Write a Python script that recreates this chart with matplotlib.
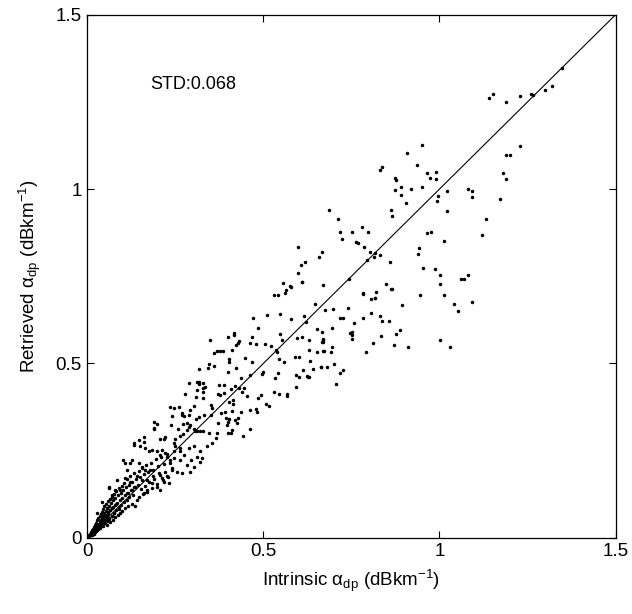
import matplotlib
matplotlib.use("Agg")
import matplotlib.pyplot as plt

plt.rcParams["font.family"] = ["Liberation Sans", "DejaVu Sans"]
plt.rcParams["mathtext.fontset"] = "custom"
plt.rcParams["mathtext.rm"] = "Liberation Sans"
plt.rcParams["mathtext.it"] = "Liberation Sans:italic"

# intrinsic vs retrieved specific differential phase
intrinsic = [
    # dense wedge near origin
    0.003, 0.005, 0.006, 0.008, 0.009, 0.010, 0.011, 0.012, 0.013, 0.014,
    0.015, 0.016, 0.017, 0.018, 0.019, 0.020, 0.021, 0.022, 0.023, 0.024,
    0.025, 0.026, 0.027, 0.028, 0.029, 0.030, 0.031, 0.032, 0.033, 0.034,
    0.035, 0.036, 0.037, 0.038, 0.039, 0.040, 0.041, 0.042, 0.043, 0.044,
    0.045, 0.046, 0.047, 0.048, 0.049, 0.050, 0.052, 0.053, 0.054, 0.055,
    0.056, 0.057, 0.058, 0.059, 0.060, 0.062, 0.063, 0.064, 0.065, 0.066,
    0.068, 0.069, 0.070, 0.071, 0.072, 0.074, 0.075, 0.076, 0.078, 0.079,
    0.080, 0.082, 0.083, 0.085, 0.086, 0.088, 0.089, 0.090, 0.092, 0.093,
    0.095, 0.096, 0.098, 0.099, 0.100, 0.102, 0.104, 0.105, 0.107, 0.108,
    0.110, 0.112, 0.113, 0.115, 0.117, 0.118, 0.120, 0.122, 0.124, 0.126,
    0.128, 0.130, 0.132, 0.134, 0.136, 0.138, 0.140, 0.143, 0.146, 0.148,
    0.150, 0.153, 0.156, 0.158, 0.161, 0.164, 0.167, 0.170, 0.173, 0.176,
    0.180, 0.183, 0.186, 0.190, 0.194, 0.198, 0.202, 0.206, 0.210, 0.214,
    0.218, 0.222, 0.226, 0.230, 0.235, 0.240, 0.245,
    0.061, 0.084, 0.108, 0.134, 0.160, 0.027, 0.042,
    0.015, 0.022, 0.030, 0.036, 0.044, 0.051, 0.058, 0.066, 0.073, 0.081,
    0.019, 0.027, 0.034, 0.041, 0.049, 0.056, 0.063, 0.070, 0.077, 0.091,
    # lower band 0.05 - 0.35
    0.132, 0.146, 0.160, 0.151, 0.165, 0.174, 0.184, 0.198, 0.212, 0.207,
    0.222, 0.226, 0.245, 0.250, 0.264, 0.262, 0.274, 0.288, 0.302, 0.321,
    0.326, 0.319, 0.312, 0.295, 0.283, 0.264, 0.245, 0.236, 0.269, 0.255,
    0.241, 0.226, 0.212, 0.203, 0.188, 0.179, 0.165, 0.155, 0.146, 0.127,
    0.122, 0.113, 0.103, 0.108, 0.122, 0.141, 0.155, 0.170, 0.184, 0.198,
    0.217, 0.231, 0.207, 0.170, 0.160, 0.136, 0.127, 0.113, 0.094, 0.080,
    0.070, 0.061, 0.190, 0.257, 0.304, 0.401, 0.420, 0.395, 0.411, 0.425,
    0.354, 0.340, 0.302, 0.293, 0.312, 0.329, 0.333,
    # middle band 0.2 - 0.5
    0.416, 0.416, 0.432, 0.427, 0.349, 0.400, 0.385, 0.378, 0.368, 0.359,
    0.411, 0.422, 0.402, 0.403, 0.361, 0.345, 0.342, 0.421, 0.400, 0.317,
    0.290, 0.316, 0.317, 0.329, 0.328, 0.330, 0.311, 0.310, 0.279, 0.438,
    0.445, 0.420, 0.431, 0.408, 0.375, 0.388, 0.371, 0.378, 0.388, 0.403,
    0.415, 0.413, 0.352, 0.355, 0.302, 0.440, 0.455, 0.484, 0.494, 0.508,
    0.516, 0.531, 0.545, 0.567, 0.568, 0.592, 0.602, 0.626, 0.463, 0.478,
    0.482, 0.437, 0.427, 0.403, 0.400, 0.412, 0.380, 0.390, 0.371, 0.351,
    0.331, 0.316, 0.310, 0.291, 0.288, 0.276, 0.268, 0.269, 0.260, 0.245,
    0.234, 0.242, 0.191, 0.198, 0.191, 0.238, 0.272, 0.283, 0.293, 0.288,
    0.305, 0.312, 0.319, 0.328, 0.347, 0.369, 0.409, 0.397, 0.461, 0.443,
    0.366, 0.271, 0.264, 0.248, 0.222, 0.217, 0.207, 0.283,
    # 0.45 - 0.7
    0.687, 0.712, 0.719, 0.752, 0.722, 0.781, 0.796, 0.762, 0.768, 0.785,
    0.802, 0.816, 0.813, 0.793, 0.599, 0.666, 0.657, 0.617, 0.606, 0.599,
    0.610, 0.555, 0.578, 0.563, 0.561, 0.542, 0.531, 0.669, 0.742, 0.784,
    0.817, 0.647, 0.546, 0.509, 0.472, 0.579, 0.615, 0.621, 0.484, 0.651,
    0.467, 0.461, 0.478, 0.505, 0.523, 0.547, 0.553, 0.535, 0.540, 0.596,
    0.610, 0.629, 0.668, 0.668, 0.449, 0.467, 0.545, 0.558, 0.590, 0.602,
    0.631, 0.651, 0.671, 0.633, 0.612, 0.641, 0.665, 0.594, 0.623, 0.630,
    0.463, 0.499, 0.497, 0.543, 0.532, 0.577, 0.610,
    # 0.65 - 1.05 below line
    0.783, 0.820, 0.807, 0.818, 1.052, 0.676, 0.697, 0.741, 0.806, 0.830,
    0.782, 0.717, 0.726, 0.838, 0.858, 0.758, 0.695, 0.667, 0.745, 0.753,
    0.753, 0.887, 0.878, 0.834, 1.001, 1.031, 0.670, 0.667, 0.753, 0.810,
    0.871, 0.911, 0.695, 0.693, 0.670, 0.791, 0.665, 0.681, 0.702, 0.717,
    0.726, 0.705,
    # upper right
    0.950, 0.908, 0.837, 0.832, 0.935, 0.965, 0.990, 0.974, 0.990, 0.874,
    0.877, 0.874, 0.892, 0.920, 0.950, 0.892, 0.906, 0.863, 0.864, 1.022,
    0.996, 0.993, 1.022, 1.080, 1.092, 1.092, 1.171, 1.181, 1.189, 1.190,
    1.200, 1.230, 1.132, 1.122, 0.965, 0.977, 1.012, 0.942, 0.940, 0.832,
    0.861, 0.952, 0.987, 1.002, 1.002, 1.062, 1.071, 1.082, 0.847, 0.863,
    0.866, 0.944, 1.012, 0.894, 1.042, 1.092,
    1.141, 1.151, 1.189, 1.230, 1.259, 1.266, 1.299, 1.320, 1.349,
]
retrieved = [
    0.004, 0.008, 0.005, 0.012, 0.007, 0.015, 0.010, 0.018, 0.009, 0.022,
    0.013, 0.026, 0.016, 0.030, 0.012, 0.021, 0.034, 0.017, 0.038, 0.027,
    0.020, 0.044, 0.031, 0.023, 0.050, 0.036, 0.026, 0.056, 0.041, 0.030,
    0.062, 0.047, 0.027, 0.068, 0.052, 0.035, 0.075, 0.058, 0.040, 0.082,
    0.063, 0.034, 0.070, 0.050, 0.090, 0.042, 0.078, 0.060, 0.098, 0.038,
    0.085, 0.066, 0.048, 0.106, 0.074, 0.092, 0.055, 0.112, 0.080, 0.045,
    0.100, 0.064, 0.118, 0.087, 0.052, 0.108, 0.072, 0.126, 0.093, 0.060,
    0.115, 0.080, 0.134, 0.100, 0.066, 0.122, 0.088, 0.142, 0.108, 0.072,
    0.130, 0.095, 0.150, 0.115, 0.078, 0.138, 0.102, 0.158, 0.122, 0.085,
    0.145, 0.108, 0.168, 0.130, 0.092, 0.153, 0.116, 0.176, 0.138, 0.098,
    0.160, 0.122, 0.185, 0.145, 0.090, 0.168, 0.110, 0.152, 0.192, 0.118,
    0.175, 0.140, 0.200, 0.125, 0.183, 0.150, 0.208, 0.132, 0.190, 0.160,
    0.215, 0.142, 0.196, 0.168, 0.225, 0.155, 0.205, 0.180, 0.232, 0.165,
    0.212, 0.190, 0.240, 0.175, 0.222, 0.200, 0.250,
    0.147, 0.166, 0.214, 0.267, 0.289, 0.071, 0.104,
    0.019, 0.028, 0.037, 0.044, 0.054, 0.062, 0.070, 0.079, 0.088, 0.097,
    0.016, 0.024, 0.031, 0.037, 0.045, 0.051, 0.058, 0.064, 0.070, 0.083,
    0.272, 0.281, 0.276, 0.262, 0.257, 0.248, 0.252, 0.249, 0.252, 0.238,
    0.243, 0.233, 0.272, 0.262, 0.257, 0.248, 0.238, 0.257, 0.262, 0.248,
    0.229, 0.217, 0.231, 0.224, 0.209, 0.224, 0.229, 0.214, 0.186, 0.190,
    0.195, 0.176, 0.171, 0.186, 0.176, 0.195, 0.195, 0.204, 0.214, 0.224,
    0.214, 0.195, 0.224, 0.171, 0.161, 0.176, 0.166, 0.166, 0.157, 0.147,
    0.161, 0.157, 0.138, 0.138, 0.128, 0.147, 0.138, 0.128, 0.138, 0.138,
    0.123, 0.143, 0.312, 0.312, 0.312, 0.302, 0.338, 0.345, 0.310, 0.329,
    0.272, 0.262, 0.204, 0.190, 0.448, 0.445, 0.432,
    0.587, 0.582, 0.565, 0.558, 0.568, 0.576, 0.536, 0.536, 0.536, 0.530,
    0.538, 0.553, 0.512, 0.505, 0.494, 0.499, 0.487, 0.488, 0.475, 0.484,
    0.444, 0.448, 0.442, 0.429, 0.418, 0.401, 0.424, 0.404, 0.413, 0.457,
    0.431, 0.436, 0.430, 0.426, 0.438, 0.438, 0.413, 0.410, 0.414, 0.391,
    0.394, 0.384, 0.381, 0.372, 0.379, 0.418, 0.407, 0.401, 0.410, 0.385,
    0.379, 0.419, 0.413, 0.413, 0.407, 0.432, 0.461, 0.461, 0.367, 0.369,
    0.362, 0.362, 0.345, 0.340, 0.333, 0.365, 0.358, 0.361, 0.329, 0.351,
    0.353, 0.346, 0.340, 0.367, 0.353, 0.350, 0.359, 0.353, 0.375, 0.371,
    0.375, 0.349, 0.331, 0.327, 0.315, 0.324, 0.327, 0.329, 0.324, 0.317,
    0.305, 0.307, 0.305, 0.305, 0.300, 0.300, 0.300, 0.323, 0.313, 0.291,
    0.286, 0.298, 0.293, 0.284, 0.288, 0.283, 0.283, 0.308,
    0.939, 0.915, 0.878, 0.878, 0.857, 0.890, 0.878, 0.848, 0.845, 0.835,
    0.821, 0.816, 0.805, 0.798, 0.833, 0.820, 0.806, 0.792, 0.781, 0.759,
    0.734, 0.730, 0.720, 0.711, 0.702, 0.697, 0.695, 0.726, 0.743, 0.701,
    0.687, 0.670, 0.643, 0.639, 0.630, 0.628, 0.636, 0.619, 0.601, 0.599,
    0.576, 0.560, 0.555, 0.555, 0.551, 0.584, 0.566, 0.539, 0.534, 0.574,
    0.577, 0.567, 0.570, 0.561, 0.515, 0.504, 0.514, 0.503, 0.519, 0.519,
    0.538, 0.533, 0.537, 0.507, 0.480, 0.484, 0.491, 0.467, 0.465, 0.460,
    0.467, 0.477, 0.470, 0.474, 0.458, 0.721, 0.733,
    0.700, 0.705, 0.685, 0.689, 0.650, 0.652, 0.655, 0.659, 0.645, 0.636,
    0.631, 0.629, 0.629, 0.622, 0.622, 0.615, 0.603, 0.589, 0.587, 0.589,
    0.583, 0.597, 0.584, 0.580, 0.568, 0.548, 0.568, 0.561, 0.569, 0.558,
    0.553, 0.546, 0.548, 0.533, 0.536, 0.534, 0.490, 0.491, 0.499, 0.472,
    0.481, 0.440,
    1.127, 1.103, 1.063, 1.055, 1.070, 1.046, 1.048, 1.031, 1.030, 1.031,
    1.026, 0.998, 1.005, 1.001, 1.007, 0.983, 0.961, 0.941, 0.923, 0.996,
    0.979, 0.966, 0.938, 1.000, 0.994, 0.977, 0.972, 1.045, 1.030, 1.098,
    1.099, 1.124, 0.915, 0.868, 0.874, 0.877, 0.852, 0.830, 0.814, 0.810,
    0.792, 0.774, 0.771, 0.755, 0.728, 0.743, 0.741, 0.753, 0.728, 0.715,
    0.714, 0.695, 0.695, 0.668, 0.670, 0.677,
    1.262, 1.274, 1.249, 1.268, 1.272, 1.270, 1.283, 1.296, 1.346,
]
std_text = "STD:0.068"
ticks = [0, 0.5, 1, 1.5]
tick_labels = ["0", "0.5", "1", "1.5"]

fig = plt.figure(figsize=(6.32, 6.14), dpi=100)
ax = fig.add_axes([0.138, 0.124, 0.836, 0.852])

ax.plot(intrinsic, retrieved, "k.", markersize=3.0, linestyle="none")
ax.plot([0, 1.5], [0, 1.5], color="black", linewidth=0.8)

ax.set_xlim(0, 1.5)
ax.set_ylim(0, 1.5)
ax.set_xticks(ticks)
ax.set_yticks(ticks)
ax.set_xticklabels(tick_labels)
ax.set_yticklabels(tick_labels)
ax.tick_params(direction="in", top=True, right=True, length=5, width=0.8,
               labelsize=13.5, pad=4)
for spine in ax.spines.values():
    spine.set_linewidth(0.9)

ax.text(0.179, 1.30, std_text, fontsize=13, va="center", ha="left")
ax.set_xlabel("Intrinsic α$_{\\mathrm{dp}}$ (dBkm$^{-1}$)", fontsize=13.5, labelpad=5)
ax.set_ylabel("Retrieved α$_{\\mathrm{dp}}$ (dBkm$^{-1}$)", fontsize=13.5, labelpad=9)

fig.savefig("out.png", dpi=100)
